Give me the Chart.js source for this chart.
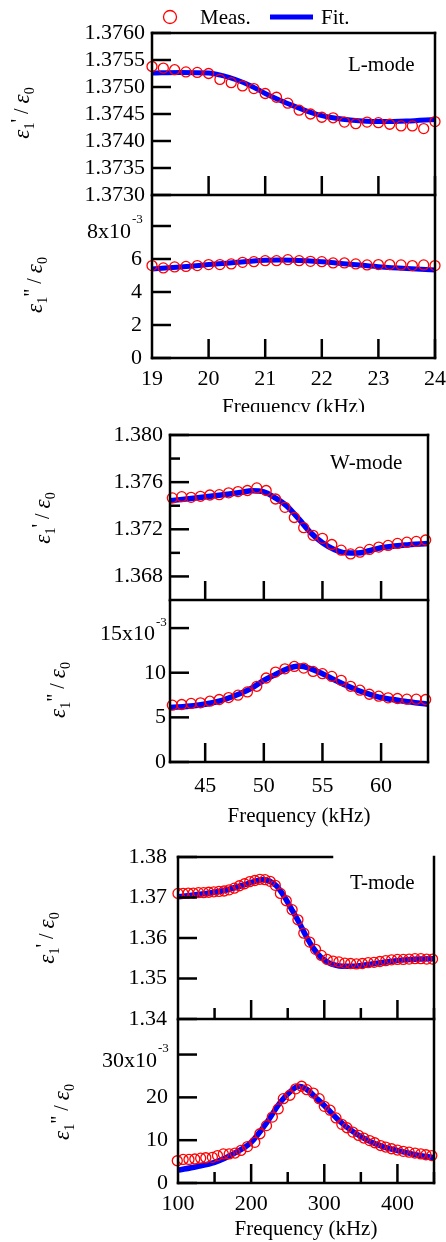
<!DOCTYPE html>
<html><head><meta charset="utf-8"><title>Dielectric dispersion</title>
<script src="https://cdn.jsdelivr.net/npm/chart.js@4.4.1/dist/chart.umd.min.js"></script>
<style>
html,body{margin:0;padding:0;background:#fff;}
body{position:relative;width:446px;height:1242px;overflow:hidden;}
.w{position:absolute;left:0;width:446px;overflow:hidden;}
canvas{display:block;}
</style></head><body>
<div class="w" style="top:0px;height:215px"><canvas id="cL1" width="446" height="215"></canvas></div>
<div class="w" style="top:190px;height:222px"><canvas id="cL2" width="446" height="240"></canvas></div>
<div class="w" style="top:420px;height:190px"><canvas id="cW1" width="446" height="190"></canvas></div>
<div class="w" style="top:595px;height:240px"><canvas id="cW2" width="446" height="240"></canvas></div>
<div class="w" style="top:840px;height:190px"><canvas id="cT1" width="446" height="190"></canvas></div>
<div class="w" style="top:1014px;height:228px"><canvas id="cT2" width="446" height="228"></canvas></div>
<script>
// ---------------- L-mode ----------------
const lFreq = [19.0,19.2,19.4,19.6,19.8,20.0,20.2,20.4,20.6,20.8,21.0,21.2,21.4,21.6,21.8,22.0,22.2,22.4,22.6,22.8,23.0,23.2,23.4,23.6,23.8,24.0];
const lEps1 = [1.37538,1.37535,1.37532,1.37528,1.37527,1.37525,1.37514,1.37508,1.37502,1.37497,1.37488,1.37481,1.37470,1.37457,1.37450,1.37444,1.37443,1.37435,1.37432,1.37435,1.37434,1.37431,1.37428,1.37428,1.37423,1.37436];
const lEps2 = [5.60,5.46,5.52,5.55,5.60,5.66,5.66,5.70,5.80,5.84,5.90,5.90,5.96,5.90,5.86,5.84,5.76,5.76,5.70,5.64,5.66,5.66,5.64,5.60,5.64,5.60];
const lFitFreq = [19,19.5,20,20.25,20.5,20.75,21,21.25,21.5,21.75,22,22.25,22.5,23,23.5,24];
const lFit1 = [1.37526,1.37527,1.37526,1.37521,1.37513,1.37502,1.37488,1.37476,1.37465,1.37455,1.37447,1.37442,1.37439,1.37436,1.37437,1.37440];
const lFit2 = [5.40,5.52,5.66,5.73,5.80,5.87,5.92,5.94,5.93,5.89,5.84,5.76,5.68,5.53,5.42,5.34];
const lXTicks = [19,20,21,22,23,24];
const lY1Ticks = [1.3730,1.3735,1.3740,1.3745,1.3750,1.3755,1.3760];
const lY1Labels = ['1.3730','1.3735','1.3740','1.3745','1.3750','1.3755','1.3760'];
const lY2Ticks = [0,2,4,6,8];
const lY2Labels = ['0','2','4','6','8x10'];

// ---------------- W-mode ----------------
const wFreq = [42.2,43.0,43.8,44.6,45.4,46.2,47.0,47.8,48.6,49.4,50.2,51.0,51.8,52.6,53.4,54.2,55.0,55.8,56.6,57.4,58.2,59.0,59.8,60.6,61.4,62.2,63.0,63.8];
const wEps1 = [1.37466,1.37477,1.37471,1.37480,1.37491,1.37494,1.37509,1.37520,1.37529,1.37551,1.37529,1.37457,1.37386,1.37300,1.37214,1.37149,1.37123,1.37071,1.37023,1.36991,1.37006,1.37029,1.37049,1.37063,1.37080,1.37091,1.37097,1.37109];
const wEps2 = [6.37,6.44,6.56,6.63,6.81,7.00,7.22,7.48,7.85,8.48,9.41,10.07,10.44,10.70,10.52,10.15,9.89,9.59,9.15,8.48,8.04,7.59,7.37,7.19,7.11,7.04,7.04,7.00];
const wFitFreq = [42,44,46,48,49,50,51,52,53,54,55,56,57,58,59,60,62,64];
const wFit1 = [1.37443,1.37463,1.37486,1.37512,1.37527,1.37518,1.37465,1.37394,1.37286,1.37171,1.37086,1.37029,1.37000,1.36998,1.37018,1.37043,1.37066,1.37080];
const wFit2 = [6.11,6.30,6.75,7.67,8.30,9.15,9.81,10.44,10.74,10.44,9.89,9.22,8.59,8.04,7.59,7.22,6.81,6.48];
const wXTicks = [45,50,55,60];
const wY1Ticks = [1.368,1.372,1.376,1.380];
const wY1Labels = ['1.368','1.372','1.376','1.380'];
const wY1Minor = [1.370,1.374,1.378];
const wY2Ticks = [0,5,10,15];
const wY2Labels = ['0','5','10','15x10'];

// ---------------- T-mode ----------------
const tFreq1 = [100,107,114,121,128,135,142,149,156,163,170,177,184,191,198,205,212,219,226,233,240,248,256,264,272,280,288,296,304,312,320,328,336,344,352,360,368,376,384,392,400,408,416,424,432,440,448];
const tEps1 = [1.3710,1.3710,1.3711,1.3711,1.3712,1.3712,1.3713,1.3714,1.3715,1.3716,1.3719,1.3723,1.3729,1.3734,1.3739,1.3742,1.3745,1.3744,1.3740,1.3730,1.3710,1.3692,1.3670,1.3645,1.3612,1.3590,1.3572,1.3557,1.3547,1.3543,1.3541,1.3538,1.3537,1.3536,1.3537,1.3539,1.3540,1.3542,1.3544,1.3546,1.3547,1.3547,1.3548,1.3549,1.3549,1.3548,1.3548];
const tFreq2 = [99,107,115,123,131,138,147,154,162,170,178,186,195,205,212,221,229,237,244,253,261,269,276,285,293,300,308,316,324,331,339,347,354,362,369,377,384,392,400,408,416,424,432,439,447];
const tEps2 = [5.2,5.5,5.5,5.6,5.8,5.9,6.0,6.4,6.8,6.8,7.0,7.6,8.5,9.5,11.5,13.4,15.4,17.3,19.7,20.5,22.0,22.6,21.8,21.0,19.7,17.9,17.0,15.2,13.7,12.9,11.9,11.1,10.5,9.9,9.4,8.75,8.4,8.0,7.7,7.4,7.2,7.0,6.8,6.6,6.4];
const tFitFreq1 = [100,130,160,190,205,215,225,235,245,255,265,275,285,295,305,315,325,335,350,370,390,410,430,450];
const tFit1 = [1.3702,1.3708,1.3716,1.3731,1.3740,1.3744,1.3741,1.3728,1.3703,1.3672,1.3640,1.3605,1.3575,1.3553,1.3540,1.3533,1.3530,1.3530,1.3532,1.3537,1.3542,1.3546,1.3548,1.3549];
const tFitFreq2 = [100,125,150,180,200,220,240,255,265,275,290,300,320,340,360,380,400,425,450];
const tFit2 = [3.0,3.8,4.8,7.2,9.5,13.8,18.9,21.6,22.6,22.0,19.7,18.1,14.6,11.9,9.9,8.5,7.6,6.6,5.9];
const tXTicks = [100,200,300,400];
const tXMinor = [150,250,350,450];
const tY1Ticks = [1.34,1.35,1.36,1.37,1.38];
const tY1Labels = ['1.34','1.35','1.36','1.37','1.38'];
const tY2Ticks = [0,10,20,30];
const tY2Labels = ['0','10','20','30x10'];

// ---------------- drawing ----------------
const FONT = "'Liberation Serif','Times New Roman',Times,serif";
const RED = '#ff0000', BLUE = '#0000ff';
function pts(xs, ys) { return xs.map((x, i) => ({x: x, y: ys[i]})); }

function yTitle(ctx, cx, cy, prime) {
  ctx.save(); ctx.translate(cx, cy); ctx.rotate(-Math.PI / 2);
  ctx.fillStyle = '#000'; ctx.textBaseline = 'middle'; ctx.textAlign = 'left';
  const big = 'italic 23px ' + FONT, sub = '14px ' + FONT, reg = '20px ' + FONT;
  const parts = [['\u03b5', big, 0], ['1', sub, 7], [prime, reg, -3], [' / ', reg, 0], ['\u03b5', big, 0], ['0', sub, 7]];
  let w = 0;
  parts.forEach(p => { ctx.font = p[1]; p.push(ctx.measureText(p[0]).width); w += p[3]; });
  let x = -w / 2;
  parts.forEach(p => { ctx.font = p[1]; ctx.fillText(p[0], x, p[2]); x += p[3]; });
  ctx.restore();
}

const decor = {
  id: 'decor',
  afterDraw(chart, args, o) {
    const ctx = chart.ctx, a = chart.chartArea, xs = chart.scales.x, ys = chart.scales.y;
    ctx.save();
    ctx.strokeStyle = '#000'; ctx.lineWidth = 2.5; ctx.lineCap = 'square';
    const line = (x1, y1, x2, y2) => { ctx.beginPath(); ctx.moveTo(x1, y1); ctx.lineTo(x2, y2); ctx.stroke(); };
    line(a.left, a.top, a.left, a.bottom);
    line(a.left, a.bottom, a.right, a.bottom);
    line(a.right, a.top, a.right, a.bottom);
    if (o.top) line(a.left, a.top, o.topEnd || a.right, a.top);
    ctx.lineCap = 'butt';
    (o.xMajor || []).forEach(v => { const p = xs.getPixelForValue(v); line(p, a.bottom, p, a.bottom - 19); });
    (o.xMinor || []).forEach(v => { const p = xs.getPixelForValue(v); line(p, a.bottom, p, a.bottom - 11); });
    ys.ticks.forEach(t => { const p = ys.getPixelForValue(t.value); line(a.left, p, a.left + 19, p); });
    (o.yMinor || []).forEach(v => { const p = ys.getPixelForValue(v); line(a.left, p, a.left + 10, p); });
    ctx.fillStyle = '#000';
    if (o.sup) {
      const top = ys.ticks[ys.ticks.length - 1];
      const py = ys.getPixelForValue(top.value);
      ctx.font = '22px ' + FONT;
      const sw = ctx.measureText('  ').width;
      const R = ys.right - ys.options.ticks.padding;
      ctx.font = '13px ' + FONT; ctx.textAlign = 'left'; ctx.textBaseline = 'middle';
      ctx.fillText('-3', R - sw + 1, py - 6);
    }
    if (o.mode) {
      ctx.font = '21px ' + FONT; ctx.textAlign = 'left'; ctx.textBaseline = 'middle';
      ctx.fillText(o.mode.t, o.mode.x, o.mode.y);
    }
    if (o.legend) {
      const fit = chart.data.datasets[0], meas = chart.data.datasets[1];
      ctx.strokeStyle = meas.pointBorderColor; ctx.lineWidth = 1.3;
      ctx.beginPath(); ctx.arc(170, 17, 6.5, 0, Math.PI * 2); ctx.stroke();
      ctx.font = '21px ' + FONT; ctx.textAlign = 'left'; ctx.textBaseline = 'middle';
      ctx.fillText(meas.label, 200, 18);
      ctx.strokeStyle = fit.borderColor; ctx.lineWidth = 5;
      line(270, 17, 313, 17);
      ctx.fillText(fit.label, 321, 18);
    }
    if (o.yt) yTitle(ctx, o.yt.x, o.yt.y, o.yt.p);
    ctx.restore();
  }
};

function build(id, c) {
  new Chart(document.getElementById(id), {
    type: 'line',
    data: {datasets: [
      {label: 'Fit.', data: pts(c.fx, c.fy), borderColor: BLUE, backgroundColor: BLUE, borderWidth: c.lw,
       pointRadius: 0, pointHoverRadius: 0, cubicInterpolationMode: 'monotone', fill: false, order: 2, clip: false},
      {label: 'Meas.', data: pts(c.mx, c.my), showLine: false, pointStyle: 'circle', pointRadius: 5, pointHoverRadius: 5,
       pointBorderWidth: 1.3, pointBorderColor: RED, pointBackgroundColor: 'rgba(255,255,255,0)', borderColor: RED,
       backgroundColor: 'rgba(255,255,255,0)', order: 1, clip: false}
    ]},
    options: {
      responsive: false, animation: false, events: [],
      layout: {padding: {top: c.padTop, bottom: c.padBottom, left: 0, right: c.padRight}},
      plugins: {legend: {display: false}, tooltip: {enabled: false}, decor: c.decor},
      scales: {
        x: {type: 'linear', min: c.xMin, max: c.xMax, display: !!c.xTicks,
            grid: {display: false, drawTicks: false}, border: {display: false},
            ticks: {autoSkip: false, maxRotation: 0, padding: c.xPad || 0, color: '#000', font: {family: FONT, size: 22}},
            afterBuildTicks: s => { if (c.xTicks) s.ticks = c.xTicks.map(v => ({value: v})); },
            afterFit: s => { s.height = c.xH || 0; s.paddingLeft = 0; s.paddingRight = 0; },
            title: {display: !!c.xTicks, text: 'Frequency (kHz)', color: '#000', font: {family: FONT, size: 21, lineHeight: 1},
                    padding: {top: 0, bottom: c.tPad || 0}}},
        y: {type: 'linear', min: c.yMin, max: c.yMax,
            grid: {display: false, drawTicks: false}, border: {display: false},
            ticks: {autoSkip: false, padding: c.yPad, color: '#000', font: {family: FONT, size: 22, lineHeight: 0.6},
                    callback: (v, i) => { const l = c.yLabels[i]; return l.indexOf('x10') >= 0 ? ['', l + '  '] : l; }},
            afterBuildTicks: s => { s.ticks = c.yTicks.map(v => ({value: v})); },
            afterFit: s => { s.width = c.left; s.paddingTop = 0; s.paddingBottom = 0; }}
      }
    },
    plugins: [decor]
  });
}

build('cL1', {fx: lFitFreq, fy: lFit1, mx: lFreq, my: lEps1, lw: 5, xMin: 19, xMax: 24,
  yMin: 1.3730, yMax: 1.3760, yTicks: lY1Ticks, yLabels: lY1Labels, yPad: 7, left: 152,
  padTop: 33, padBottom: 20, padRight: 11,
  decor: {top: true, xMajor: [20,21,22,23,24], legend: true, mode: {t: 'L-mode', x: 348, y: 65}, yt: {x: 23, y: 113, p: "'"}}});
build('cL2', {fx: lFitFreq, fy: lFit2, mx: lFreq, my: lEps2, lw: 5, xMin: 19, xMax: 24,
  yMin: 0, yMax: 9.8, yTicks: lY2Ticks, yLabels: lY2Labels, yPad: 10, left: 152,
  xTicks: lXTicks, xPad: 8, xH: 72, tPad: 12.5,
  padTop: 5, padBottom: 0, padRight: 11,
  decor: {xMajor: [20,21,22,23,24], sup: true, yt: {x: 36, y: 95, p: '"'}}});
build('cW1', {fx: wFitFreq, fy: wFit1, mx: wFreq, my: wEps1, lw: 5.5, xMin: 42, xMax: 64,
  yMin: 1.366, yMax: 1.380, yTicks: wY1Ticks, yLabels: wY1Labels, yPad: 7, left: 170,
  padTop: 15, padBottom: 10, padRight: 18,
  decor: {top: true, xMajor: [45,50,55,60], yMinor: wY1Minor, mode: {t: 'W-mode', x: 330, y: 43}, yt: {x: 44, y: 98, p: "'"}}});
build('cW2', {fx: wFitFreq, fy: wFit2, mx: wFreq, my: wEps2, lw: 5.5, xMin: 42, xMax: 64,
  yMin: 0, yMax: 18, yTicks: wY2Ticks, yLabels: wY2Labels, yPad: 4, left: 170,
  xTicks: wXTicks, xPad: 11, xH: 73, tPad: 8.5,
  padTop: 5, padBottom: 0, padRight: 18,
  decor: {xMajor: [45,50,55,60], sup: true, yt: {x: 59, y: 95, p: '"'}}});
build('cT1', {fx: tFitFreq1, fy: tFit1, mx: tFreq1, my: tEps1, lw: 5.5, xMin: 100, xMax: 450,
  yMin: 1.34, yMax: 1.38, yTicks: tY1Ticks, yLabels: tY1Labels, yPad: 11, left: 178,
  padTop: 17, padBottom: 11, padRight: 12,
  decor: {top: true, topEnd: 332, xMajor: [200,300,400], xMinor: tXMinor, mode: {t: 'T-mode', x: 350, y: 43}, yt: {x: 48, y: 98, p: "'"}}});
build('cT2', {fx: tFitFreq2, fy: tFit2, mx: tFreq2, my: tEps2, lw: 5.5, xMin: 100, xMax: 450,
  yMin: 0, yMax: 38, yTicks: tY2Ticks, yLabels: tY2Labels, yPad: 10, left: 178,
  xTicks: tXTicks, xPad: 8, xH: 59, tPad: 2,
  padTop: 5, padBottom: 0, padRight: 12,
  decor: {xMajor: [200,300,400], xMinor: tXMinor, sup: true, yt: {x: 63, y: 98, p: '"'}}});
</script>
</body></html>
